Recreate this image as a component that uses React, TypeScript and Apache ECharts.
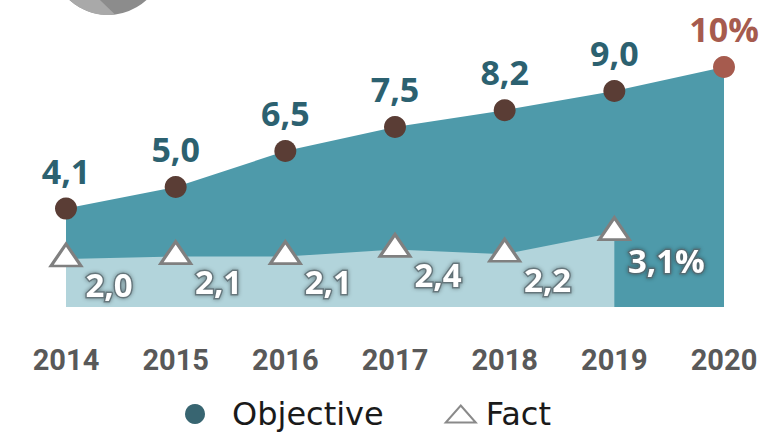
import { useEffect, useRef } from 'react';
import * as echarts from 'echarts';

const years = ['2014', '2015', '2016', '2017', '2018', '2019', '2020'];
const objective = [4.1, 5.0, 6.5, 7.5, 8.2, 9.0, 10];
const fact = [2.0, 2.1, 2.1, 2.4, 2.2, 3.1];
const seriesNames = ['Objective', 'Fact'];

const TEAL = '#4E9AAA';
const LIGHT = '#B2D4DB';
const LABEL_TEAL = '#2C6170';
const BROWN = '#5A3D35';
const RED = '#A65B4E';

const comma = (v: number) => v.toFixed(1).replace('.', ',');

function decoPoints() {
  const cx = 108, cy = -42, r = 57;
  const pts: number[][] = [[94.9, -4.9], [115, 14.6]];
  for (let a = 83.4; a <= 150; a += 2) {
    const t = (a * Math.PI) / 180;
    pts.push([cx + r * Math.cos(t), cy + r * Math.sin(t)]);
  }
  return pts;
}

export default function App() {
  const ref = useRef<HTMLDivElement>(null);
  useEffect(() => {
    if (!ref.current) return;
    const chart = echarts.init(ref.current, null, { renderer: 'svg' });
    const lastObj = objective.length - 1;
    const lastFact = fact.length - 1;
    chart.setOption({
      animation: false,
      grid: { left: 66, right: 45, top: 67, bottom: 128 },
      xAxis: {
        type: 'category',
        data: years,
        boundaryGap: false,
        axisLine: { show: false },
        axisTick: { show: false },
        axisLabel: {
          margin: 38,
          fontSize: 29,
          fontWeight: 'bold',
          fontFamily: 'Roboto',
          color: '#595959',
        },
      },
      yAxis: { type: 'value', min: 0, max: 10, show: false, splitLine: { show: false } },
      legend: {
        left: 180,
        top: 393,
        itemWidth: 30,
        itemHeight: 20,
        itemGap: 61,
        textStyle: {
          fontSize: 32,
          fontFamily: 'DejaVu Sans',
          color: '#1a1a1a',
        },
        data: [
          {
            name: seriesNames[0],
            icon: 'circle',
            itemStyle: { color: '#386571' },
            textStyle: { padding: [0, 0, 0, 17] },
          },
          {
            name: seriesNames[1],
            icon: 'path://M15,0L30,17L0,17Z',
            itemStyle: { color: '#ffffff', borderColor: '#8a8a8a', borderWidth: 2 },
            textStyle: { padding: [0, 0, 0, 5] },
          },
        ],
      },
      graphic: [
        { type: 'circle', shape: { cx: 108, cy: -42, r: 57 }, style: { fill: '#8C8C8C' }, silent: true },
        { type: 'polygon', shape: { points: decoPoints() }, style: { fill: '#A9A9A9' }, silent: true },
      ],
      series: [
        {
          name: seriesNames[0],
          type: 'line',
          data: objective.map((v, i) =>
            i === lastObj
              ? { value: v, itemStyle: { color: RED }, label: { color: RED } }
              : v
          ),
          symbol: 'circle',
          symbolSize: 22,
          itemStyle: { color: BROWN },
          lineStyle: { width: 0 },
          areaStyle: { color: TEAL, opacity: 1 },
          z: 2,
          label: {
            show: true,
            position: 'top',
            distance: 10,
            fontSize: 34,
            fontWeight: 'bold',
            fontFamily: 'Open Sans',
            color: LABEL_TEAL,
            formatter: (p: any) => (p.dataIndex === lastObj ? `${p.value}%` : comma(p.value)),
          },
        },
        {
          name: seriesNames[1],
          type: 'line',
          data: fact.map((v, i) =>
            i === lastFact ? { value: v, label: { offset: [52, 32] } } : v
          ),
          symbol: 'triangle',
          symbolSize: [30, 22],
          symbolOffset: [0, -4],
          itemStyle: { color: '#ffffff', borderColor: '#808080', borderWidth: 3 },
          lineStyle: { width: 0 },
          areaStyle: { color: LIGHT, opacity: 1 },
          z: 3,
          label: {
            show: true,
            position: 'inside',
            offset: [43, 29],
            fontSize: 33,
            fontWeight: 'bold',
            fontFamily: 'Open Sans',
            color: '#ffffff',
            textBorderColor: 'rgba(85,100,105,0.75)',
            textBorderWidth: 3,
            textShadowColor: 'rgba(0,0,0,0.45)',
            textShadowBlur: 4,
            formatter: (p: any) => (p.dataIndex === lastFact ? `${comma(p.value)}%` : comma(p.value)),
          },
        },
      ],
    });
    return () => chart.dispose();
  }, []);
  return (
    <div
      ref={ref}
      style={{ position: 'absolute', left: 0, top: 0, width: 769, height: 435, background: '#fff' }}
    />
  );
}
